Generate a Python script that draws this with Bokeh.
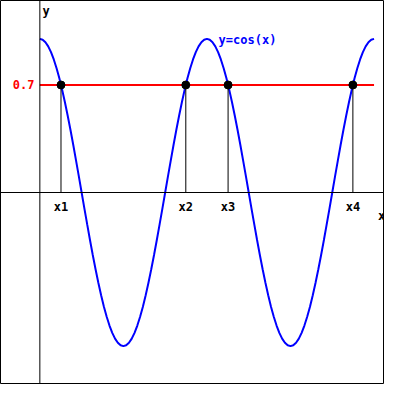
import numpy as np
from bokeh.plotting import figure
from bokeh.models import Span, Label
from bokeh.embed import file_html
from bokeh.resources import INLINE

# data
x_curve = np.linspace(0, 4 * np.pi, 121)
y_curve = np.cos(x_curve)
level = 0.7
x_points = [0.795, 5.488, 7.078, 11.771]
point_labels = ["x1", "x2", "x3", "x4"]

W = 384
p = figure(width=W, height=W, x_range=(-1.48, 12.96), y_range=(-1.25, 1.25),
           output_backend="svg", toolbar_location=None, min_border=0)
p.axis.visible = False
p.grid.visible = False
p.outline_line_color = "black"
p.outline_line_width = 1
p.background_fill_color = "white"

p.add_layout(Span(location=0, dimension="width", line_color="black", line_width=1))
p.add_layout(Span(location=0, dimension="height", line_color="black", line_width=1))

font = "DejaVu Sans Mono"
fs = "12px"

p.line(x_curve, y_curve, line_color="#0000ff", line_width=2)
p.line([0, 4 * np.pi], [level, level], line_color="#ff0000", line_width=2)
p.segment(x0=x_points, y0=[0] * 4, x1=x_points, y1=[level] * 4, line_color="black", line_width=1)
p.scatter(x_points, [level] * 4, size=8, fill_color="black", line_color="black")

for xv, lab in zip(x_points, point_labels):
    p.add_layout(Label(x=xv, y=-0.095, text=lab, text_align="center", text_baseline="middle",
                       text_font=font, text_font_style="bold", text_font_size=fs, text_color="black"))

p.add_layout(Label(x=-0.2, y=level, text="0.7", text_align="right", text_baseline="middle",
                   text_font=font, text_font_style="bold", text_font_size=fs, text_color="#ff0000"))
p.add_layout(Label(x=0.1, y=1.18, text="y", text_align="left", text_baseline="middle",
                   text_font=font, text_font_style="bold", text_font_size=fs, text_color="black"))
p.add_layout(Label(x=12.72, y=-0.155, text="x", text_align="left", text_baseline="middle",
                   text_font=font, text_font_style="bold", text_font_size=fs, text_color="black"))
p.add_layout(Label(x=6.72, y=0.99, text="y=cos(x)", text_align="left", text_baseline="middle",
                   text_font=font, text_font_style="bold", text_font_size=fs, text_color="#0000ff"))

open("out.html", "w").write(file_html(p, INLINE))
